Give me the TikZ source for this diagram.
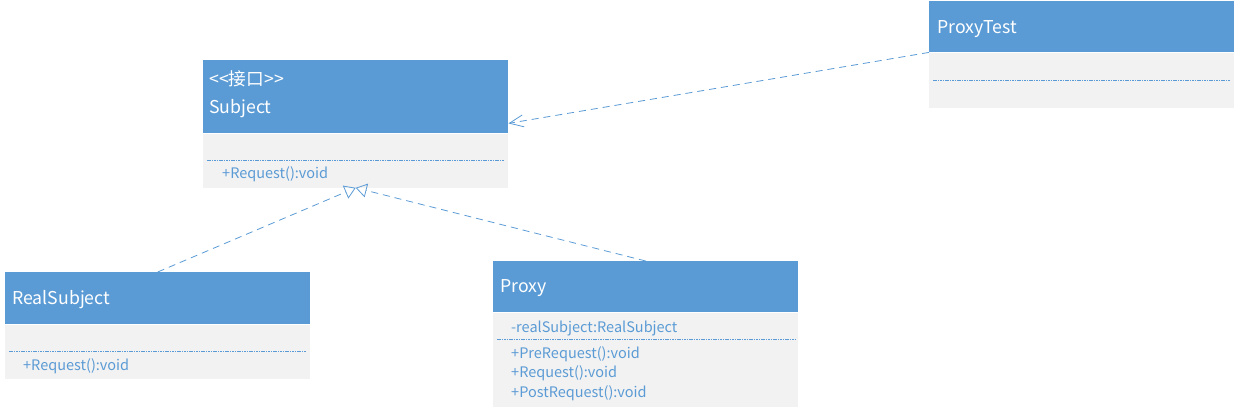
\documentclass[tikz,border=0pt]{standalone}
\usepackage{fontspec}
\setmainfont{Noto Sans CJK SC}
\usepackage{xcolor}
\usepackage{tikz}
\usetikzlibrary{arrows.meta}
\usetikzlibrary{positioning}
\usetikzlibrary{calc}
\definecolor{umlblue}{HTML}{5B9BD5}
\definecolor{umlgrey}{HTML}{F2F2F2}

\begin{document}
\begin{tikzpicture}[x=1pt,y=-1pt]
	\tikzstyle{head}=[fill=umlblue,minimum width=305pt,anchor=north west,inner sep=0pt]
	\tikzstyle{body}=[fill=umlgrey,minimum width=305pt,anchor=north west,inner sep=0pt]
	\tikzstyle{title}=[text=white,font=\fontsize{17.7}{20}\selectfont,anchor=west,inner sep=0pt]
	\tikzstyle{member}=[text=umlblue,font=\fontsize{14.5}{16}\selectfont,anchor=west,inner sep=0pt]
	\tikzstyle{sep}=[umlblue,line width=0.9pt,dash pattern=on 1.6pt off 0.8pt]
	\tikzstyle{dep}=[umlblue,line width=0.8pt,dash pattern=on 7pt off 5pt,-{Straight Barb[length=14pt,width=12pt]}]
	\tikzstyle{real}=[umlblue,line width=0.8pt,dash pattern=on 7pt off 5pt,-{Triangle[open,length=11pt,width=14pt]}]

	\useasboundingbox (0,0) rectangle (1237,410);

	% Subject
	\node[head,minimum height=73pt] (subjHead) at (203,60) {};
	\node[body,minimum height=54pt] (subjBody) at (subjHead.south west) {};
	\node[title] (subjStereo) at (209,79) {<{}<接口>{}>};
	\node[title] (subjName) at (209,109) {Subject};
	\draw[sep] (207,160) -- (504,160);
	\node[member] (subjReq) at (222,174) {+Request():void};

	% ProxyTest
	\node[head,minimum height=51pt] (testHead) at (929,1) {};
	\node[body,minimum height=55pt] (testBody) at (testHead.south west) {};
	\node[title] (testName) at (937,29) {ProxyTest};
	\draw[sep] (933,80) -- (1230,80);

	% RealSubject
	\node[head,minimum height=52pt] (realHead) at (5,272) {};
	\node[body,minimum height=54pt] (realBody) at (realHead.south west) {};
	\node[title] (realName) at (12,300) {RealSubject};
	\draw[sep] (9,351) -- (306,351);
	\node[member] (realReq) at (23,366) {+Request():void};

	% Proxy
	\node[head,minimum height=51pt] (proxyHead) at (493,261) {};
	\node[body,minimum height=94pt] (proxyBody) at (proxyHead.south west) {};
	\node[title] (proxyName) at (500,288) {Proxy};
	\node[member] (proxyAttr) at (511,328) {-realSubject:RealSubject};
	\draw[sep] (497,339) -- (795,339);
	\node[member] (proxyPre) at (511,354) {+PreRequest():void};
	\node[member] (proxyReq) at (511,373) {+Request():void};
	\node[member] (proxyPost) at (511,393) {+PostRequest():void};

	\draw[dep] (testHead.south west) -- ($(subjHead.south east)+(0,-10)$);
	\draw[real] (realHead.north) -- (subjBody.south);
	\draw[real] (proxyHead.north) -- (subjBody.south);
\end{tikzpicture}
\end{document}
